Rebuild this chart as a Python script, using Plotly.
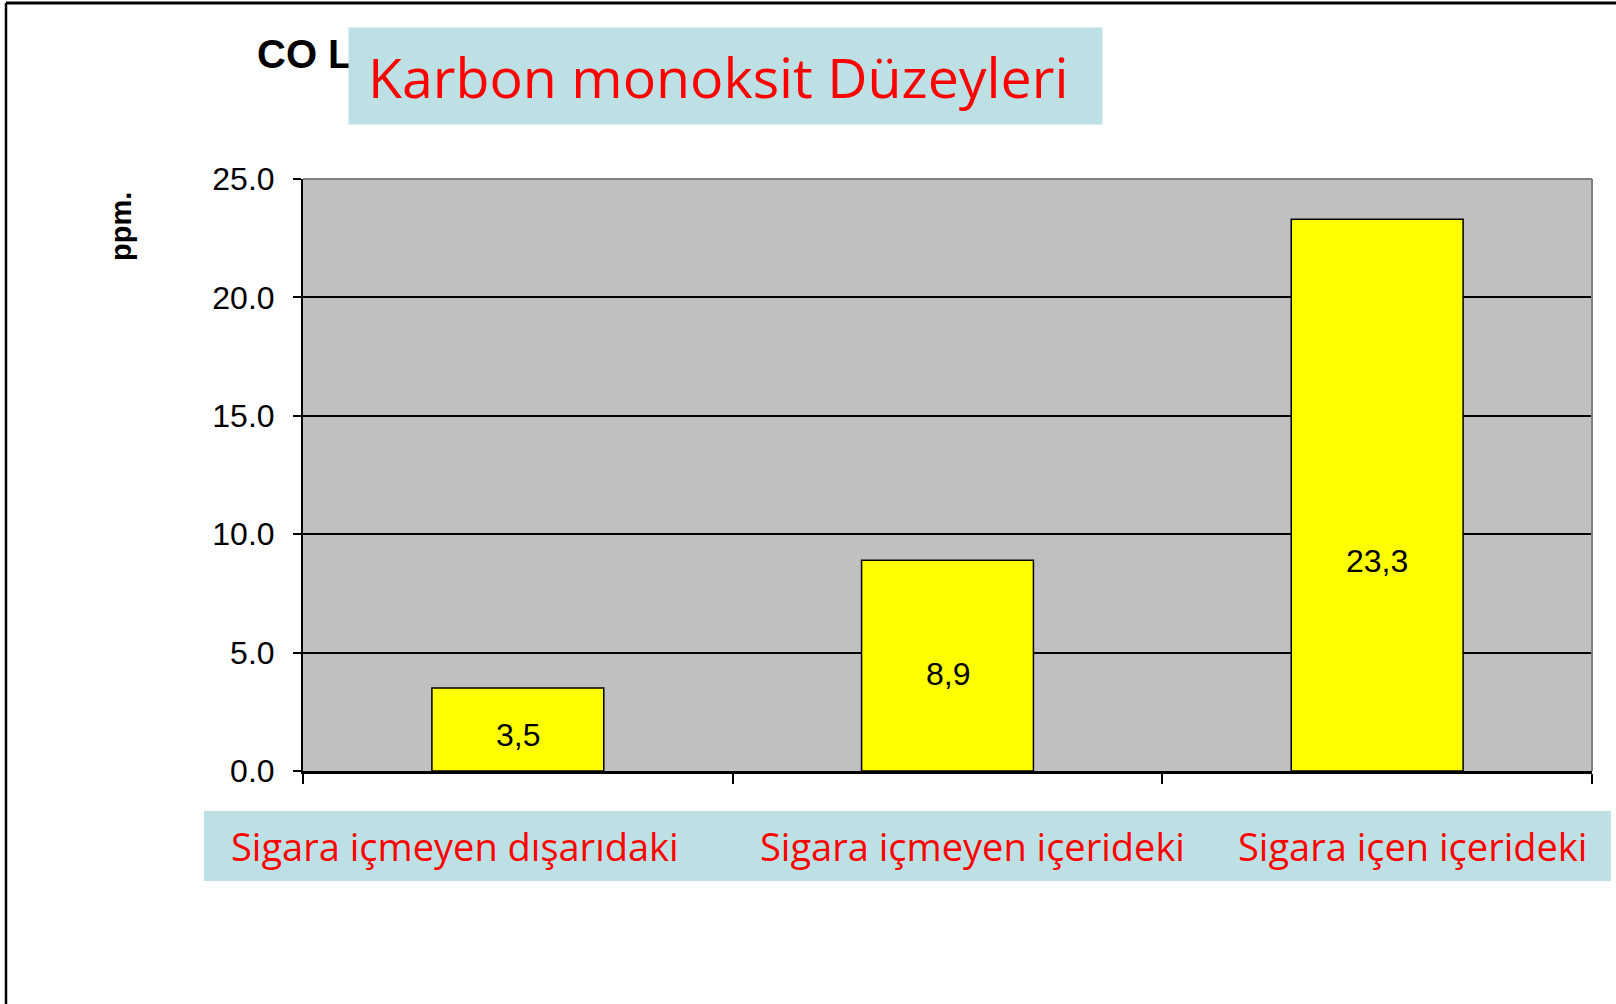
import plotly.graph_objects as go

categories = ["Sigara içmeyen dışarıdaki", "Sigara içmeyen içerideki", "Sigara içen içerideki"]
values = [3.5, 8.9, 23.3]
value_labels = ["3,5", "8,9", "23,3"]
y_ticks = [0, 5, 10, 15, 20, 25]
y_tick_labels = ["0.0", "5.0", "10.0", "15.0", "20.0", "25.0"]
chart_title = "CO Levels"
overlay_title = "Karbon monoksit Düzeyleri"
y_title = "ppm."

# vertical placement of the value labels inside the bars (style, as in the original)
label_y_pos = [1.52, 4.09, 8.88]

W, H = 1616, 1004
L, R, T, B = 303, 1592, 179, 771
pw, ph = R - L, B - T

def px(x):
    return (x - L) / pw

def py(y):
    return (B - y) / ph

fig = go.Figure()
fig.add_trace(go.Bar(
    x=categories, y=values, width=0.4,
    marker=dict(color="#FFFF00", line=dict(color="#000000", width=1.5)),
    hoverinfo="skip",
))

shapes = [
    dict(type="line", xref="paper", yref="paper", x0=px(6), x1=px(W), y0=py(3), y1=py(3),
         line=dict(color="#000000", width=3)),
    dict(type="line", xref="paper", yref="paper", x0=px(6), x1=px(6), y0=py(3), y1=py(H),
         line=dict(color="#000000", width=2.5)),
    dict(type="line", xref="paper", yref="paper", x0=0, x1=1, y0=1, y1=1,
         line=dict(color="#808080", width=2), layer="above"),
    dict(type="line", xref="paper", yref="paper", x0=1, x1=1, y0=0, y1=1,
         line=dict(color="#808080", width=2), layer="above"),
    dict(type="rect", xref="paper", yref="paper", x0=px(204), x1=px(1611), y0=py(881), y1=py(811),
         fillcolor="#BCE0E3", line=dict(width=0), layer="below"),
]

label_centers = [455, 972, 1412]
annotations = [
    dict(text=chart_title, xref="paper", yref="paper", x=px(255), y=py(54),
         xanchor="left", yanchor="middle", showarrow=False,
         font=dict(family="Arial, Liberation Sans", size=40, color="#000000", weight="bold")),
    # the light-blue box covering the title
    dict(text=" ", xref="paper", yref="paper", x=px(348), y=py(27),
         xanchor="left", yanchor="top", showarrow=False,
         width=753, height=96, borderpad=0, bgcolor="#BCE0E3",
         font=dict(size=10)),
    dict(text=overlay_title, xref="paper", yref="paper", x=px(366), y=py(76),
         xanchor="left", yanchor="middle", showarrow=False,
         font=dict(family="Open Sans", size=55.5, color="#FF0000")),
    dict(text=y_title, xref="paper", yref="paper", x=px(121), y=py(227),
         xanchor="center", yanchor="middle", showarrow=False, textangle=-90,
         font=dict(family="Arial, Liberation Sans", size=29, color="#000000", weight="bold")),
]
for cat, cx in zip(categories, label_centers):
    annotations.append(dict(text=cat, xref="paper", yref="paper", x=px(cx), y=py(846),
                            xanchor="center", yanchor="middle", showarrow=False,
                            font=dict(family="Open Sans", size=38, color="#FF0000")))
for cat, ly, lab in zip(categories, label_y_pos, value_labels):
    annotations.append(dict(text=lab, xref="x", yref="y", x=cat, y=ly,
                            xanchor="center", yanchor="middle", showarrow=False,
                            font=dict(family="Arial, Liberation Sans", size=32, color="#000000")))

fig.update_layout(
    width=W, height=H,
    margin=dict(l=L, r=W - R, t=T, b=H - B, pad=0),
    paper_bgcolor="#FFFFFF", plot_bgcolor="#C0C0C0",
    showlegend=False,
    shapes=shapes, annotations=annotations,
)
fig.update_xaxes(
    type="category", showticklabels=False, showgrid=False,
    ticks="outside", tickson="boundaries", ticklen=10, tickwidth=1.5, tickcolor="#000000",
    showline=True, linecolor="#000000", linewidth=3, zeroline=False,
)
fig.update_yaxes(
    range=[0, 25], tickvals=y_ticks, ticktext=y_tick_labels,
    ticks="outside", ticklen=8, tickwidth=1.5, tickcolor="#000000",
    tickfont=dict(family="Arial, Liberation Sans", size=32, color="#000000"),
    showgrid=True, gridcolor="#000000", gridwidth=1.5,
    showline=True, linecolor="#000000", linewidth=2, zeroline=False,
    ticklabelstandoff=12,
)

fig.write_html("out.html", config={"displayModeBar": False},
               post_script="document.body.style.margin='0';document.documentElement.style.overflow='hidden';")
